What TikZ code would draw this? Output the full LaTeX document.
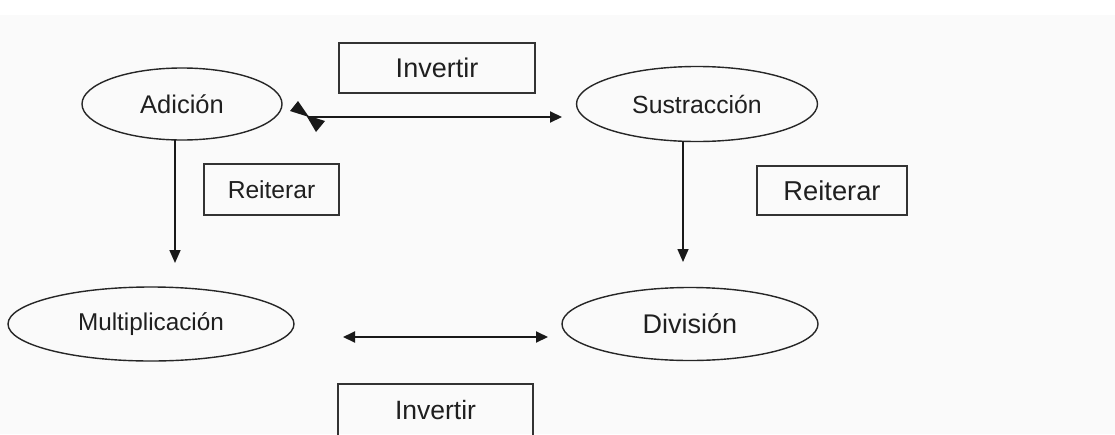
\documentclass[tikz,border=0pt]{standalone}
\usepackage{fontspec}
\setmainfont{Liberation Sans}
\usetikzlibrary{shapes.geometric,arrows.meta}
\begin{document}
\begin{tikzpicture}[x=1pt,y=-1pt,
  oval/.style={draw=black!85,line width=1.4pt,ellipse,inner sep=0pt,text=black!88},
  label box/.style={draw=black!80,line width=1.5pt,rectangle,inner sep=0pt,text=black!88},
  conn/.style={line width=2pt,draw=black!90,{Triangle[length=12pt,width=11pt]}-{Triangle[length=12pt,width=11pt]}},
  half conn/.style={line width=2pt,draw=black!90,-{Triangle[length=12pt,width=11pt]}},
  down/.style={line width=1.6pt,draw=black!90,-{Triangle[length=13pt,width=11pt]}}]
\useasboundingbox (0,0) rectangle (1115,434);
\fill[white] (0,0) rectangle (1115,434);
\fill[black!2] (0,15) rectangle (1115,434);
\clip (0,0) rectangle (1115,434);
% ovals
\node[oval,minimum width=200pt,minimum height=72pt,font=\fontsize{25.5}{30}\selectfont] (A) at (182,104) {Adición};
\node[oval,minimum width=241pt,minimum height=75pt,font=\fontsize{24.8}{28}\selectfont] (S) at (697,104) {Sustracción};
\node[oval,minimum width=286pt,minimum height=74pt,font=\fontsize{24.3}{27}\selectfont] (M) at (151,324) {Multiplicación};
\node[oval,minimum width=256pt,minimum height=73pt,font=\fontsize{27}{30}\selectfont] (D) at (690,324) {División};
% boxes
\node[label box,minimum width=196pt,minimum height=50pt,font=\fontsize{27}{30}\selectfont] (inv1) at (437,68) {Invertir};
\node[label box,minimum width=195pt,minimum height=52pt,font=\fontsize{26.5}{30}\selectfont] (inv2) at (435.5,410) {Invertir};
\node[label box,minimum width=135pt,minimum height=51pt,font=\fontsize{24.6}{28}\selectfont] (r1) at (271.5,189.5) {Reiterar};
\node[label box,minimum width=150pt,minimum height=49pt,font=\fontsize{27.3}{30}\selectfont] (r2) at (832,190.5) {Reiterar};
% connector endpoints
\coordinate (t1) at (309,117);
\coordinate (t2) at (562,117);
\coordinate (b1) at (343,337);
\coordinate (b2) at (548,337);
\coordinate (lv1) at (175,140);
\coordinate (lv2) at (175,263);
\coordinate (rv1) at (683,141);
\coordinate (rv2) at (683,262);
% connectors
\draw[half conn] (t1) -- (t2);
% smudged double arrowhead at the left end of the top connector
\fill[black!90] (t1) -- ++(-19,-6) -- ++(8,-10) -- cycle;
\fill[black!90] (t1) ++(-3,-2) -- ++(19,6) -- ++(-9,11) -- cycle;
\draw[conn] (b1) -- (b2);
\draw[down] (lv1) -- (lv2);
\draw[down] (rv1) -- (rv2);
\end{tikzpicture}
\end{document}
